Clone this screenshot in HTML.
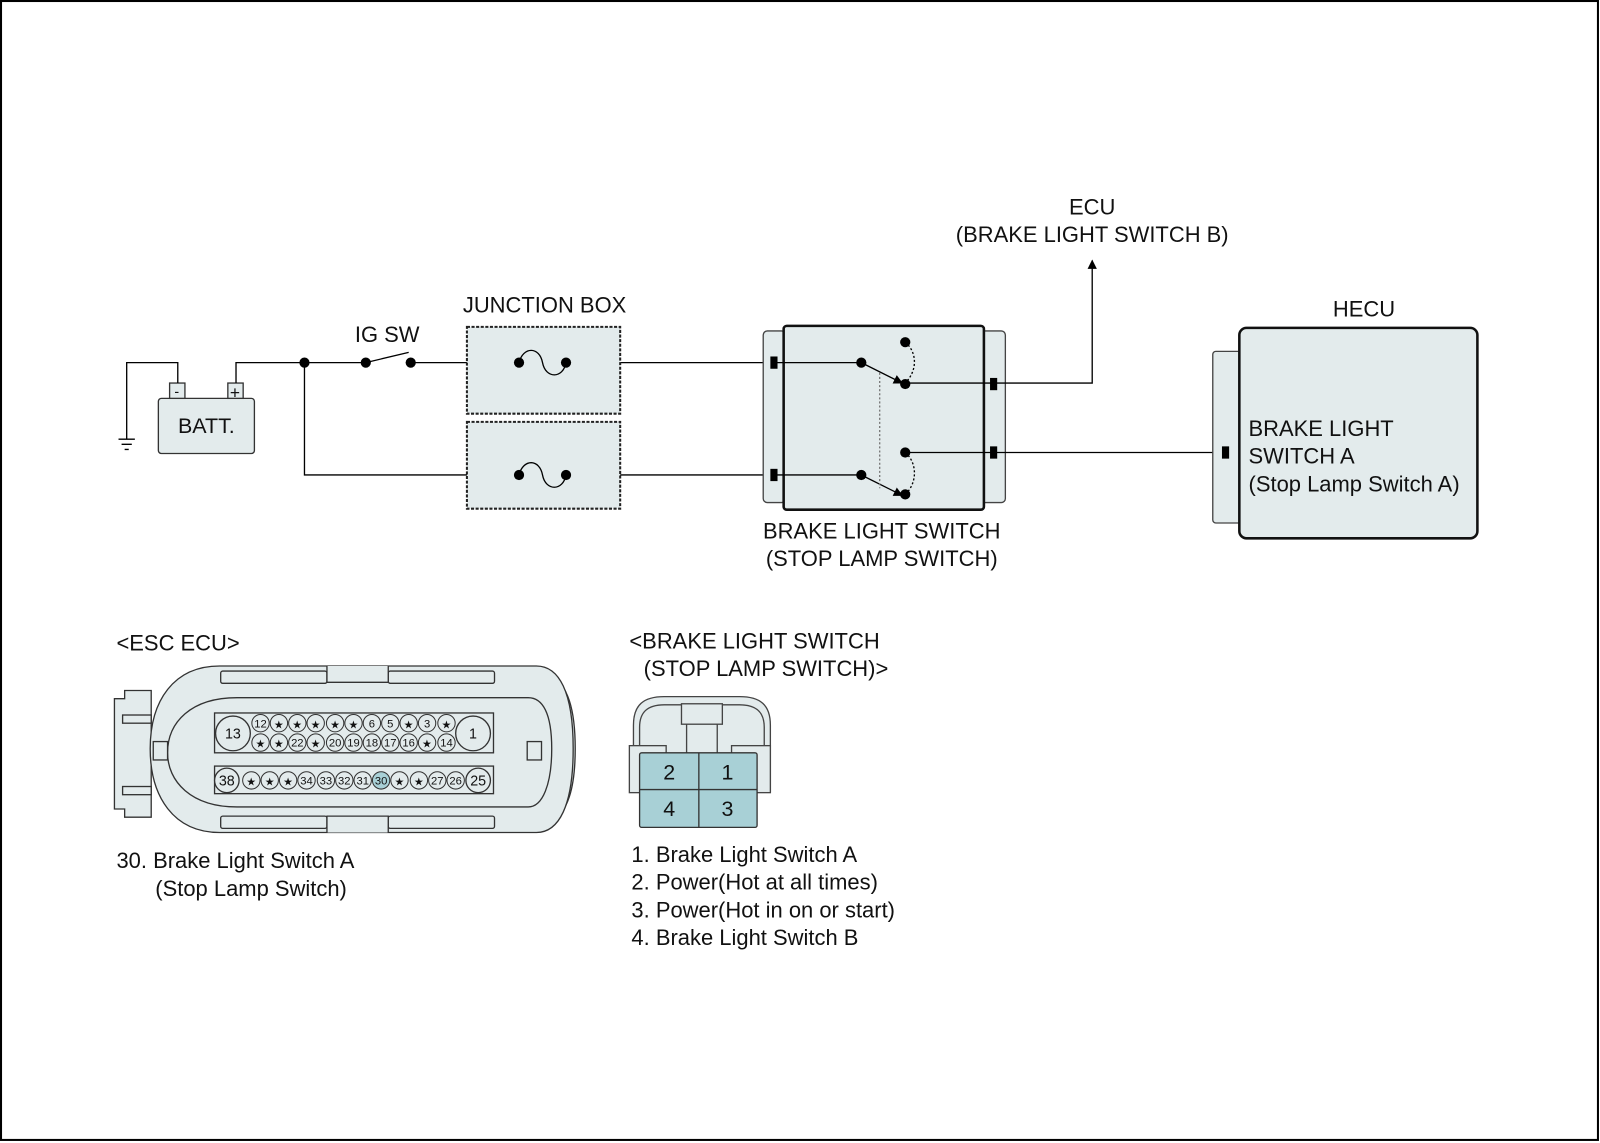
<!DOCTYPE html>
<html><head><meta charset="utf-8"><style>
html,body{margin:0;padding:0;background:#fff}
svg{display:block}
text{font-family:"Liberation Sans",sans-serif;fill:#111}
</style></head><body>
<svg width="1600" height="1143" viewBox="0 0 1566 1119" preserveAspectRatio="none" xmlns="http://www.w3.org/2000/svg">
<defs><marker id="ar" viewBox="0 0 10 10" refX="9" refY="5" markerWidth="7" markerHeight="7" orient="auto"><path d="M0,0L10,5L0,10z" fill="#000"/></marker></defs>
<rect x="1" y="1" width="1563" height="1115" fill="#fff" stroke="#000" stroke-width="2"/>
<!-- battery -->
<g stroke="#333" stroke-width="1.3" fill="#e3ebec">
<rect x="155" y="390" width="94" height="54" rx="3"/>
<rect x="166" y="375" width="15" height="15"/>
<rect x="223" y="375" width="15" height="15"/>
</g>
<text x="202" y="424" font-size="21" text-anchor="middle">BATT.</text>
<text x="173" y="388" font-size="14" text-anchor="middle">-</text>
<text x="230" y="390" font-size="17" text-anchor="middle">+</text>
<g stroke="#000" stroke-width="1.3" fill="none">
<path d="M174,375V355H124V430"/>
<path d="M116,430h16M119,435h10M122,440h4"/>
<path d="M231,375V355H298"/>
<path d="M298,355H358M358,355L400,345M402,355H760"/>
<path d="M298,355V465H760"/>
</g>
<!-- junction boxes -->
<g fill="#e3ebec" stroke="#222" stroke-width="2" stroke-dasharray="3,1.5">
<rect x="457" y="320" width="150" height="85"/>
<rect x="457" y="413" width="150" height="85"/>
</g>
<g stroke="#000" stroke-width="1.3" fill="none">
<path d="M508,355c4,-16 20,-16 23,0c3,16 20,16 23,0"/>
<path d="M508,465c4,-16 20,-16 23,0c3,16 20,16 23,0"/>
</g>
<g fill="#000">
<circle cx="298" cy="355" r="5"/><circle cx="358" cy="355" r="5"/><circle cx="402" cy="355" r="5"/>
<circle cx="508" cy="355" r="5"/><circle cx="554" cy="355" r="5"/>
<circle cx="508" cy="465" r="5"/><circle cx="554" cy="465" r="5"/>
</g>
<!-- brake light switch -->
<g fill="#e3ebec" stroke="#444" stroke-width="1.3">
<rect x="747" y="324" width="22" height="168" rx="4"/>
<rect x="960" y="324" width="24" height="168" rx="4"/>
</g>
<rect x="767" y="319" width="196" height="180" rx="3" fill="#e3ebec" stroke="#111" stroke-width="2.5"/>
<g stroke="#000" stroke-width="1.3" fill="none">
<path d="M760,355H843"/><path d="M760,465H843"/>
<path d="M843,355L883,375" marker-end="url(#ar)"/>
<path d="M843,465L883,485" marker-end="url(#ar)"/>
<path d="M886,375H972"/><path d="M886,443H1200"/>
<path d="M972,375H1069V255" marker-end="url(#ar)"/>
<path d="M861,365V478" stroke="#777" stroke-dasharray="2,2"/>
<path d="M886,335c12,10 12,28 0,40" stroke-dasharray="2,2"/>
<path d="M886,443c12,10 12,30 0,41" stroke-dasharray="2,2"/>
</g>
<g fill="#000">
<circle cx="843" cy="355" r="5"/><circle cx="843" cy="465" r="5"/>
<circle cx="886" cy="335" r="5"/><circle cx="886" cy="376" r="5"/>
<circle cx="886" cy="443" r="5"/><circle cx="886" cy="484" r="5"/>
<rect x="754" y="349" width="7" height="12"/><rect x="754" y="459" width="7" height="12"/>
<rect x="969" y="370" width="7" height="12"/><rect x="969" y="437" width="7" height="12"/>
</g>
<!-- HECU -->
<rect x="1187" y="344" width="30" height="168" rx="3" fill="#e3ebec" stroke="#444" stroke-width="1.3"/>
<rect x="1213" y="321" width="233" height="206" rx="7" fill="#e3ebec" stroke="#111" stroke-width="2.5"/>
<rect x="1196" y="437" width="7" height="12" fill="#000"/>
<!-- ESC connector -->
<g fill="#e3ebec" stroke="#333" stroke-width="1.3">
<path d="M112,684h10v-8h26v124h-26v-8h-10z"/>
<path d="M520,660h18c18,10 25,35 25,73c0,38 -7,63 -25,73h-18z"/>
<path d="M215,652H525c22,0 36,25 36,81c0,56 -14,82 -36,82H215c-45,0 -68,-35 -68,-82c0,-47 23,-81 68,-81z"/>
<path d="M232,683H517c14,0 23,15 23,50c0,35 -9,57 -23,57H232c-45,0 -68,-25 -68,-53c0,-30 23,-54 68,-54z"/>
<rect x="216" y="657" width="104" height="12" rx="2"/>
<rect x="380" y="657" width="104" height="12" rx="2"/>
<rect x="216" y="799" width="104" height="12" rx="2"/>
<rect x="380" y="799" width="104" height="12" rx="2"/>
<path d="M320,652v16h60v-16"/>
<path d="M320,815v-16h60v16"/>
<rect x="150" y="726" width="14" height="18"/><rect x="120" y="700" width="28" height="8"/><rect x="120" y="770" width="28" height="8"/>
<rect x="516" y="726" width="14" height="18"/>
<rect x="210" y="698" width="273" height="39"/>
<rect x="210" y="750" width="273" height="27"/>
<circle cx="228" cy="718" r="17"/><circle cx="463" cy="718" r="17"/>
<circle cx="222" cy="764" r="12"/><circle cx="468" cy="764" r="12"/>
</g>
<g stroke-width="1" stroke="#333" fill="#e3ebec">
<circle cx="255" cy="708" r="8.5"/><circle cx="273" cy="708" r="8.5"/><circle cx="291" cy="708" r="8.5"/><circle cx="309" cy="708" r="8.5"/><circle cx="328" cy="708" r="8.5"/><circle cx="346" cy="708" r="8.5"/><circle cx="364" cy="708" r="8.5"/><circle cx="382" cy="708" r="8.5"/><circle cx="400" cy="708" r="8.5"/><circle cx="418" cy="708" r="8.5"/><circle cx="437" cy="708" r="8.5"/>
<circle cx="255" cy="727" r="8.5"/><circle cx="273" cy="727" r="8.5"/><circle cx="291" cy="727" r="8.5"/><circle cx="309" cy="727" r="8.5"/><circle cx="328" cy="727" r="8.5"/><circle cx="346" cy="727" r="8.5"/><circle cx="364" cy="727" r="8.5"/><circle cx="382" cy="727" r="8.5"/><circle cx="400" cy="727" r="8.5"/><circle cx="418" cy="727" r="8.5"/><circle cx="437" cy="727" r="8.5"/>
<circle cx="246" cy="764" r="8.5"/><circle cx="264" cy="764" r="8.5"/><circle cx="282" cy="764" r="8.5"/><circle cx="300" cy="764" r="8.5"/><circle cx="319" cy="764" r="8.5"/><circle cx="337" cy="764" r="8.5"/><circle cx="355" cy="764" r="8.5"/><circle cx="373" cy="764" r="8.5" fill="#a8d0d6"/><circle cx="391" cy="764" r="8.5"/><circle cx="410" cy="764" r="8.5"/><circle cx="428" cy="764" r="8.5"/><circle cx="446" cy="764" r="8.5"/>
</g>
<g font-size="11" text-anchor="middle">
<text x="228" y="723" font-size="14">13</text><text x="463" y="723" font-size="14">1</text>
<text x="222" y="769" font-size="14">38</text><text x="468" y="769" font-size="14">25</text>
<text x="255" y="712">12</text><text x="273" y="713">★</text><text x="291" y="713">★</text><text x="309" y="713">★</text><text x="328" y="713">★</text><text x="346" y="713">★</text><text x="364" y="712">6</text><text x="382" y="712">5</text><text x="400" y="713">★</text><text x="418" y="712">3</text><text x="437" y="713">★</text>
<text x="255" y="732">★</text><text x="273" y="732">★</text><text x="291" y="731">22</text><text x="309" y="732">★</text><text x="328" y="731">20</text><text x="346" y="731">19</text><text x="364" y="731">18</text><text x="382" y="731">17</text><text x="400" y="731">16</text><text x="418" y="732">★</text><text x="437" y="731">14</text>
<text x="246" y="769">★</text><text x="264" y="769">★</text><text x="282" y="769">★</text><text x="300" y="768">34</text><text x="319" y="768">33</text><text x="337" y="768">32</text><text x="355" y="768">31</text><text x="373" y="768">30</text><text x="391" y="769">★</text><text x="410" y="769">★</text><text x="428" y="768">27</text><text x="446" y="768">26</text>
</g>
<!-- brake light switch connector -->
<g fill="#e3ebec" stroke="#444" stroke-width="1.3">
<path d="M620,775V710c0,-20 10,-28 30,-28h74c20,0 30,8 30,28v65z"/>
<path d="M626,775V712c0,-15 8,-22 24,-22h74c16,0 24,7 24,22v63" fill="none"/>
<rect x="667" y="689" width="40" height="20"/>
<path d="M672,709v28M702,709v28" fill="none"/>
<rect x="616" y="730" width="36" height="46"/><rect x="716" y="730" width="38" height="46"/>
</g>
<g fill="#a8d0d6" stroke="#333" stroke-width="1.3">
<rect x="626" y="737" width="115" height="73" rx="2"/>
<path d="M684,737V810M626,773H741" fill="none"/>
</g>
<g font-size="21" text-anchor="middle">
<text x="655" y="763">2</text><text x="712" y="763">1</text>
<text x="655" y="799">4</text><text x="712" y="799">3</text>
</g>
<g font-size="21.5">
<text x="1069" y="210" text-anchor="middle">ECU</text>
<text x="1069" y="237" text-anchor="middle">(BRAKE LIGHT SWITCH B)</text>
<text x="533" y="306" text-anchor="middle">JUNCTION BOX</text>
<text x="379" y="335" text-anchor="middle">IG SW</text>
<text x="1335" y="310" text-anchor="middle">HECU</text>
<text x="863" y="527" text-anchor="middle">BRAKE LIGHT SWITCH</text>
<text x="863" y="554" text-anchor="middle">(STOP LAMP SWITCH)</text>
<text x="1222" y="427">BRAKE LIGHT</text>
<text x="1222" y="454">SWITCH A</text>
<text x="1222" y="481">(Stop Lamp Switch A)</text>
<text x="114" y="637">&lt;ESC ECU&gt;</text>
<text x="616" y="635">&lt;BRAKE LIGHT SWITCH</text>
<text x="630" y="662">(STOP LAMP SWITCH)&gt;</text>
<text x="114" y="850">30. Brake Light Switch A</text>
<text x="152" y="877">(Stop Lamp Switch)</text>
<text x="618" y="844">1. Brake Light Switch A</text>
<text x="618" y="871">2. Power(Hot at all times)</text>
<text x="618" y="898">3. Power(Hot in on or start)</text>
<text x="618" y="925">4. Brake Light Switch B</text>
</g>
</svg>
</body></html>
